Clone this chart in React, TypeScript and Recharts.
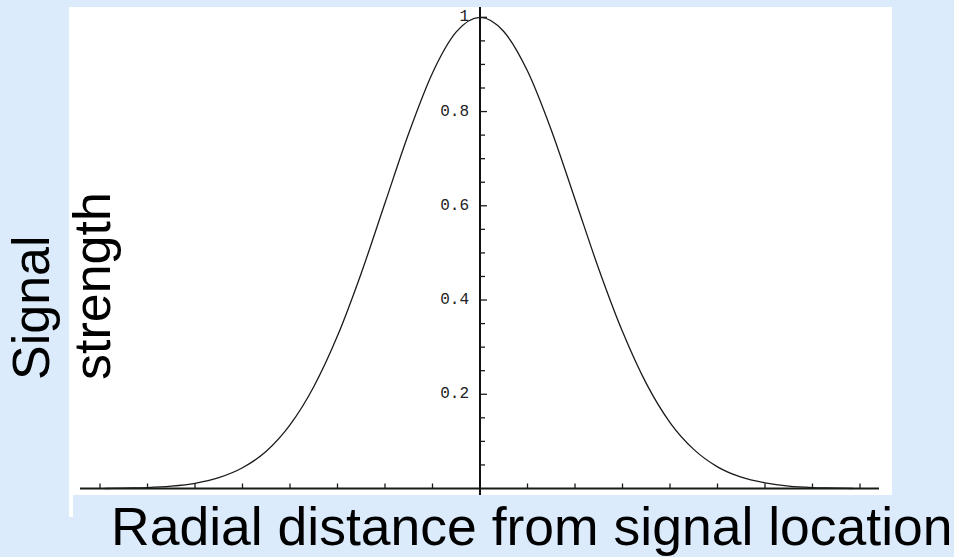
import React from "react";
import { LineChart, Line, XAxis, YAxis, ReferenceLine, ReferenceDot } from "recharts";

// Radial distance samples and the signal strength at each of them
const DISTANCE = [
  -7.9, -7.5, -7, -6.5, -6, -5.5, -5, -4.5, -4, -3.5, -3, -2.5, -2, -1.5, -1, -0.5,
  0, 0.5, 1, 1.5, 2, 2.5, 3, 3.5, 4, 4.5, 5, 5.5, 6, 6.5, 7, 7.5, 7.85,
];
const STRENGTH = [
  0.0, 0.001, 0.002, 0.005, 0.011, 0.023, 0.044, 0.079, 0.135, 0.216, 0.324, 0.457, 0.606, 0.754, 0.882, 0.969,
  1.0, 0.97, 0.886, 0.761, 0.614, 0.466, 0.333, 0.223, 0.14, 0.083, 0.046, 0.024, 0.012, 0.005, 0.002, 0.001, 0.0,
];

// Axis ticks
const Y_MAJOR = [0.2, 0.4, 0.6, 0.8, 1];
const Y_MAJOR_LABELS = ["0.2", "0.4", "0.6", "0.8", "1"];
const Y_MINOR = [0.05, 0.1, 0.15, 0.25, 0.3, 0.35, 0.45, 0.5, 0.55, 0.65, 0.7, 0.75, 0.85, 0.9, 0.95];
const X_TICKS = [-8, -7, -6, -5, -4, -3, -2, -1, 1, 2, 3, 4, 5, 6, 7, 8];

const X_TITLE = "Radial distance from signal location";
const Y_TITLE_LINES = ["Signal", "strength"];

const BG = "#DCEBFC";
const INK = "#1a1a1a";
const TICK_FONT = "'Liberation Mono', 'DejaVu Sans Mono', monospace";
const TITLE_FONT = "'Liberation Sans', Arial, sans-serif";

const data = DISTANCE.map((d, i) => ({ d, s: STRENGTH[i] }));

function YMajorTick(props: any) {
  const { cx, cy, label } = props;
  return (
    <g>
      <line x1={cx} y1={cy} x2={cx + 7} y2={cy} stroke={INK} strokeWidth={1.3} />
      <text
        x={cx - 11}
        y={cy}
        textAnchor="end"
        dominantBaseline="central"
        fontFamily={TICK_FONT}
        fontSize={16}
        fill="#222"
      >
        {label}
      </text>
    </g>
  );
}

function YMinorTick(props: any) {
  const { cx, cy } = props;
  return <line x1={cx} y1={cy} x2={cx + 5} y2={cy} stroke={INK} strokeWidth={1.3} />;
}

function XTick(props: any) {
  const { cx, cy } = props;
  return <line x1={cx} y1={cy} x2={cx} y2={cy - 5} stroke={INK} strokeWidth={1.3} />;
}

export default function App() {
  return (
    <div
      style={{
        position: "absolute",
        left: 0,
        top: 0,
        width: 954,
        height: 557,
        background: BG,
        overflow: "hidden",
      }}
    >
      <div style={{ position: "absolute", left: 69, top: 7, width: 823, height: 488, background: "#fff" }} />
      <div style={{ position: "absolute", left: 69, top: 495, width: 4, height: 22, background: "#fff" }} />
      <div style={{ position: "absolute", left: 0, top: 0 }}>
        <LineChart width={954} height={557} data={data} margin={{ top: 7, right: 75, bottom: 62, left: 80 }}>
          <XAxis type="number" dataKey="d" domain={[-8.421, 8.4]} allowDataOverflow hide />
          <YAxis type="number" domain={[-0.0138, 1.0219]} allowDataOverflow hide />
          <ReferenceLine y={0} stroke={INK} strokeWidth={2} ifOverflow="visible" />
          <ReferenceLine x={0} stroke="#111" strokeWidth={2} ifOverflow="visible" />
          {X_TICKS.map((t) => (
            <ReferenceDot key={`x${t}`} x={t} y={0} r={0} shape={(p: any) => <XTick {...p} />} />
          ))}
          {Y_MINOR.map((t) => (
            <ReferenceDot key={`m${t}`} x={0} y={t} r={0} shape={(p: any) => <YMinorTick {...p} />} />
          ))}
          {Y_MAJOR.map((t, i) => (
            <ReferenceDot
              key={`M${t}`}
              x={0}
              y={t}
              r={0}
              shape={(p: any) => <YMajorTick {...p} label={Y_MAJOR_LABELS[i]} />}
            />
          ))}
          <Line
            type="monotone"
            dataKey="s"
            stroke={INK}
            strokeWidth={1.3}
            dot={false}
            isAnimationActive={false}
          />
        </LineChart>
      </div>
      <svg
        width={954}
        height={557}
        style={{ position: "absolute", left: 0, top: 0, pointerEvents: "none" }}
      >
        <text x={49} y={380} transform="rotate(-90 49 380)" fontFamily={TITLE_FONT} fontSize={52} fill="#000">
          {Y_TITLE_LINES[0]}
        </text>
        <text x={110} y={380} transform="rotate(-90 110 380)" fontFamily={TITLE_FONT} fontSize={52} fill="#000">
          {Y_TITLE_LINES[1]}
        </text>
        <text x={111} y={545} fontFamily={TITLE_FONT} fontSize={53.5} fill="#000">
          {X_TITLE}
        </text>
      </svg>
    </div>
  );
}
